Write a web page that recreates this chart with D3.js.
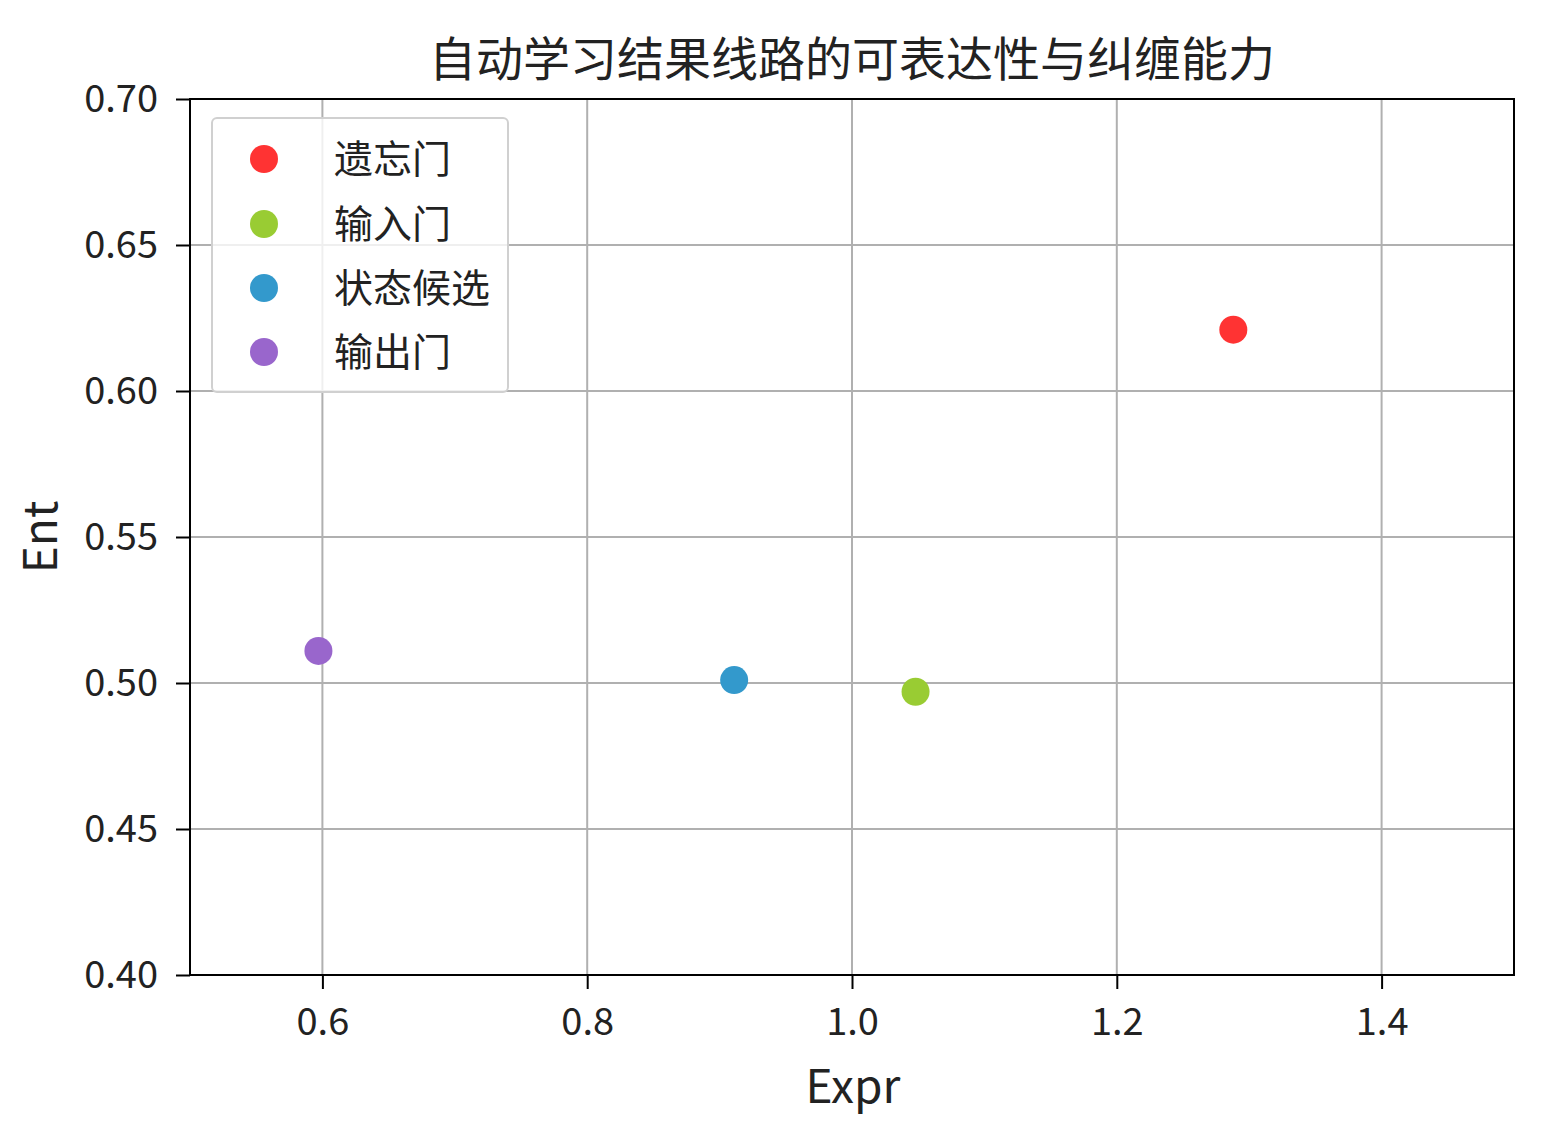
<!DOCTYPE html>
<html><head><meta charset="utf-8">
<script src="https://cdn.jsdelivr.net/npm/d3@7"></script>
<style>body{margin:0;background:#fff;} text{font-family:"Noto Sans CJK SC","Noto Sans",sans-serif;fill:#222;}</style>
</head><body>
<svg id="c" width="1545" height="1121"></svg>
<script>
const categories = ["遗忘门","输入门","状态候选","输出门"];
const exprValues = [1.288, 1.048, 0.911, 0.597];
const entValues = [0.621, 0.497, 0.501, 0.511];
const colors = ["#ff3333","#99cc33","#3399cc","#9966cc"];
const xTicks = [0.6,0.8,1.0,1.2,1.4];
const yTicks = [0.40,0.45,0.50,0.55,0.60,0.65,0.70];
const title = "自动学习结果线路的可表达性与纠缠能力";

const svg = d3.select("#c");
const L=190,R=1514,T=99,B=975;
const x = d3.scaleLinear().domain([0.5,1.5]).range([L,R]);
const y = d3.scaleLinear().domain([0.40,0.70]).range([B,T]);

// grid
svg.append("g").selectAll("line").data(xTicks).join("line")
  .attr("x1",d=>x(d)).attr("x2",d=>x(d)).attr("y1",T).attr("y2",B)
  .attr("stroke","#b0b0b0").attr("stroke-width",2);
svg.append("g").selectAll("line").data(yTicks).join("line")
  .attr("y1",d=>y(d)).attr("y2",d=>y(d)).attr("x1",L).attr("x2",R)
  .attr("stroke","#b0b0b0").attr("stroke-width",2);

// axes
const xa = svg.append("g").attr("transform",`translate(0,${B})`)
  .call(d3.axisBottom(x).tickValues(xTicks).tickFormat(d3.format(".1f")).tickSize(14).tickPadding(19));
const ya = svg.append("g").attr("transform",`translate(${L},0)`)
  .call(d3.axisLeft(y).tickValues(yTicks).tickFormat(d3.format(".2f")).tickSize(14).tickPadding(18));
[xa,ya].forEach(a=>{
  a.select(".domain").remove();
  a.selectAll(".tick line").attr("stroke","#000").attr("stroke-width",2);
  a.selectAll(".tick text").attr("font-size",38).style("font-family",'"Noto Sans CJK SC","Noto Sans",sans-serif').attr("fill","#222");
});
svg.append("rect").attr("x",L).attr("y",T).attr("width",R-L).attr("height",B-T)
  .attr("fill","none").attr("stroke","#000").attr("stroke-width",2);

// points
svg.append("g").selectAll("circle").data(categories).join("circle")
  .attr("cx",(d,i)=>x(exprValues[i])).attr("cy",(d,i)=>y(entValues[i]))
  .attr("r",14).attr("fill",(d,i)=>colors[i]);

// legend
const lg = svg.append("g");
lg.append("rect").attr("x",212).attr("y",118).attr("width",296).attr("height",274).attr("rx",5)
  .attr("fill","#fff").attr("fill-opacity",0.8).attr("stroke","#d0d0d0").attr("stroke-width",2);
const legY = [159,224,288,352];
categories.forEach((c,i)=>{
  lg.append("circle").attr("cx",264).attr("cy",legY[i]).attr("r",14).attr("fill",colors[i]);
  lg.append("text").attr("x",334).attr("y",legY[i]).attr("dy","0.36em").attr("font-size",39).text(c);
});

// title and labels
svg.append("text").attr("x",852).attr("y",76).attr("text-anchor","middle").attr("font-size",47).text(title);
svg.append("text").attr("x",853).attr("y",1103).attr("text-anchor","middle").attr("font-size",46).text("Expr");
svg.append("text").attr("transform",`translate(57,${(T+B)/2}) rotate(-90)`).attr("text-anchor","middle").attr("font-size",46).text("Ent");
</script>
</body></html>
